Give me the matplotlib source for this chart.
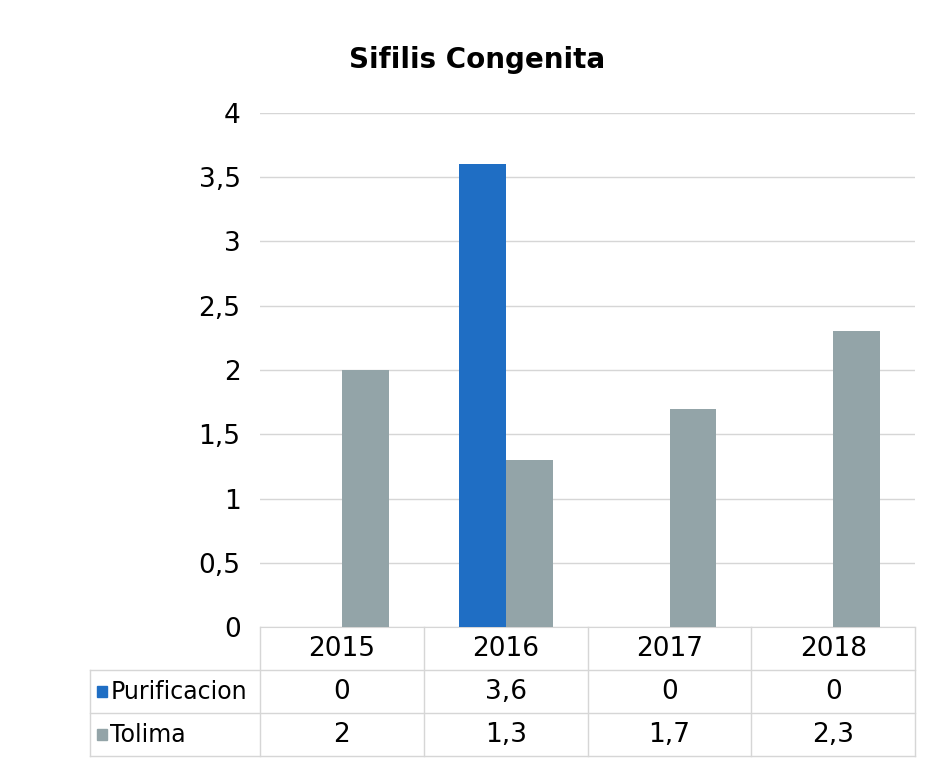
import matplotlib
matplotlib.use('Agg')
import numpy as np
import matplotlib.pyplot as plt
from matplotlib.ticker import FuncFormatter
from matplotlib.transforms import blended_transform_factory
from matplotlib.patches import Rectangle

# data
years = ['2015', '2016', '2017', '2018']
series_names = ['Purificacion', 'Tolima']
purificacion = [0, 3.6, 0, 0]
tolima = [2, 1.3, 1.7, 2.3]

colours = ['#1F6EC4', '#93A4A8']
grid_colour = '#d6d6d6'


def comma(v):
    s = f'{v:g}'
    return s.replace('.', ',')


fig = plt.figure(figsize=(9.32, 7.63), dpi=100)
fig.set_facecolor('white')
ax = fig.add_axes([0.279, 0.178, 0.703, 0.674])

x = np.arange(len(years))
w = 1 / 3.5
ax.bar(x - w / 2, purificacion, w, color=colours[0], zorder=3)
ax.bar(x + w / 2, tolima, w, color=colours[1], zorder=3)

ax.set_xlim(-0.5, len(years) - 0.5)
ax.set_ylim(0, 4)
ax.set_yticks(np.arange(0, 4.01, 0.5))
ax.yaxis.set_major_formatter(FuncFormatter(lambda v, p: comma(v)))
ax.tick_params(axis='y', length=0, pad=14, labelsize=19)
ax.set_xticks([])
ax.grid(axis='y', color=grid_colour, linewidth=1, zorder=0)
for side in ['top', 'right', 'left']:
    ax.spines[side].set_visible(False)
ax.spines['bottom'].set_color(grid_colour)

fig.text(0.512, 0.922, 'Sifilis Congenita', ha='center', va='center',
         fontsize=20, fontweight='bold')

# data table under the chart
tr = blended_transform_factory(ax.transData, ax.transAxes)
row_h = 0.0837
label_w = 1.04
n = len(years)
left = -0.5
right = n - 0.5
line_kw = dict(color=grid_colour, linewidth=1, transform=tr, clip_on=False)

# horizontal lines
ax.plot([left - label_w, right], [-row_h, -row_h], **line_kw)
ax.plot([left - label_w, right], [-2 * row_h, -2 * row_h], **line_kw)
ax.plot([left - label_w, right], [-3 * row_h, -3 * row_h], **line_kw)
# vertical lines
for i in range(n + 1):
    ax.plot([left + i, left + i], [0, -3 * row_h], **line_kw)
ax.plot([left - label_w, left - label_w], [-row_h, -3 * row_h], **line_kw)

for i, yr in enumerate(years):
    ax.text(i, -0.5 * row_h, yr, transform=tr, ha='center', va='center',
            fontsize=19)

rows = [purificacion, tolima]
key_w = 0.06
key_h = 0.022
for r, (name, vals) in enumerate(zip(series_names, rows)):
    yc = -(1.5 + r) * row_h
    ax.add_patch(Rectangle((left - label_w + 0.045, yc - key_h / 2), key_w, key_h,
                           transform=tr, clip_on=False, color=colours[r]))
    ax.text(left - label_w + 0.125, yc, name, transform=tr, ha='left',
            va='center', fontsize=17)
    for i, v in enumerate(vals):
        ax.text(i, yc, comma(v), transform=tr, ha='center', va='center',
                fontsize=19)

plt.savefig('out.png', dpi=100)
